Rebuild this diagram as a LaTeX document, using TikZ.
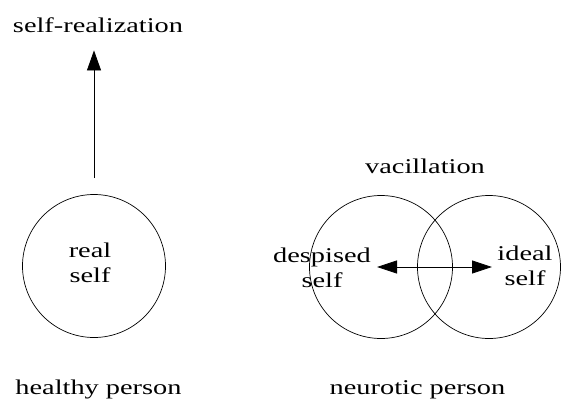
\documentclass[tikz,border=0pt]{standalone}
\usepackage{fontspec}
\setmainfont{Liberation Serif}[FakeStretch=1.35]
\usetikzlibrary{arrows.meta,positioning}
\tikzset{
  selfring/.style ={draw,circle,minimum size=143pt,inner sep=0pt,line width=0.7pt},
  caption/.style  ={font=\fontsize{21}{25}\selectfont,align=center,inner sep=0pt,anchor=base},
  arrow/.style    ={-{Triangle[length=20pt,width=14pt]},line width=0.8pt},
  dblarrow/.style ={{Triangle[length=20pt,width=13pt]}-{Triangle[length=20pt,width=13pt]},line width=0.8pt}
}
\begin{document}
\begin{tikzpicture}[x=1pt,y=-1pt]
    \useasboundingbox (0,0) rectangle (563,405);
    \node[selfring] (realself)  at (94,266)  {};
    \node[selfring] (despcirc)  at (381,267) {};
    \node[selfring] (idealcirc) at (489,267) {};
    \node[caption] (selfreal) at (98,32)    {self-realization};
    \node[caption] (real)     at (90,282)   {real\\self};
    \node[caption] (vacil)    at (425,173)  {vacillation};
    \node[caption] (despised) at (322,287)  {despised\\self};
    \node[caption] (ideal)    at (525,285)  {ideal\\self};
    \node[caption] (healthy)  at (98.5,394) {healthy person};
    \node[caption] (neurotic) at (417.5,394){neurotic person};
    \draw[arrow,shorten <=16pt,shorten >=18pt] (realself.north) -- (realself.north |- selfreal.south);
    \draw[dblarrow,shorten <=-4pt,shorten >=-3pt] (despcirc.center) -- (idealcirc.center);
  \end{tikzpicture}
\end{document}
